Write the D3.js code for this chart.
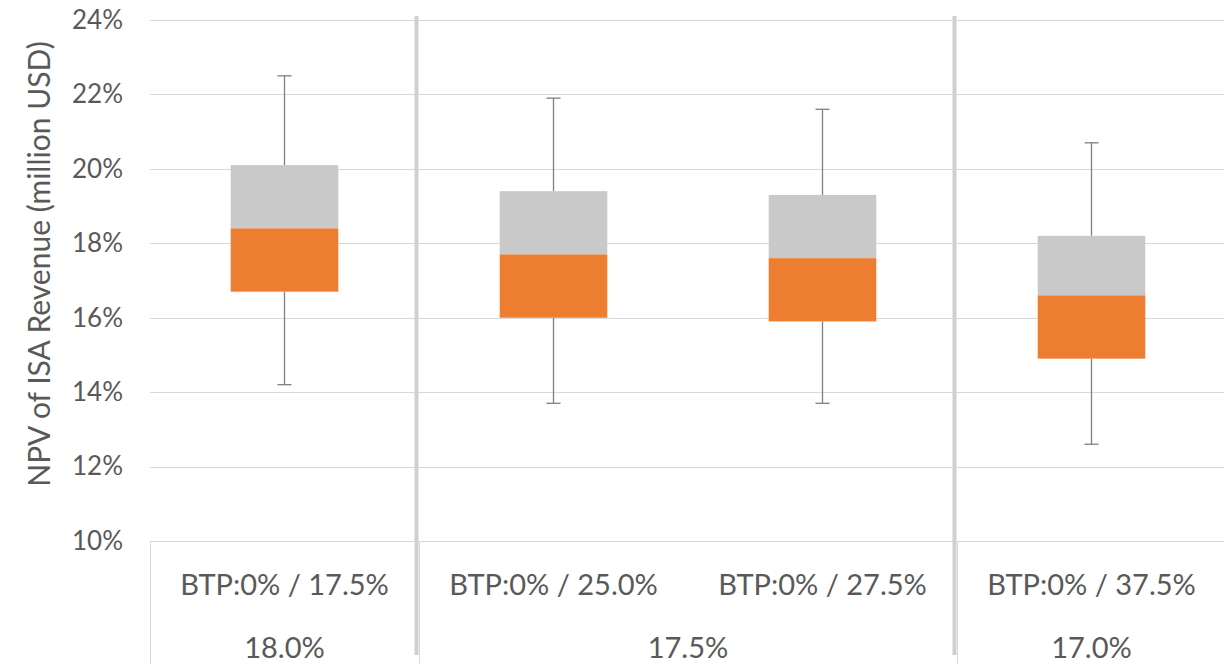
<!DOCTYPE html>
<html>
<head>
<meta charset="utf-8">
<script src="https://cdn.jsdelivr.net/npm/d3@7"></script>
<style>
  html, body { margin: 0; padding: 0; background: #fff; }
  svg { display: block; }
  text { font-family: Lato, "Open Sans", sans-serif; fill: #595959; }
</style>
</head>
<body>
<svg id="chart" width="1224" height="664"></svg>
<script>
// Scenario labels (inner level) and the rate they belong to (outer level)
const categories = ["BTP:0% / 17.5%", "BTP:0% / 25.0%", "BTP:0% / 27.5%", "BTP:0% / 37.5%"];
const groupLabels = ["18.0%", "17.5%", "17.0%"];
const groupSizes = [1, 2, 1];

// Distribution of NPV per scenario (%)
const minVals = [14.2, 13.7, 13.7, 12.6];
const q1Vals = [16.7, 16.0, 15.9, 14.9];
const medianVals = [18.4, 17.7, 17.6, 16.6];
const q3Vals = [20.1, 19.4, 19.3, 18.2];
const maxVals = [22.5, 21.9, 21.6, 20.7];

// Y axis ticks
const yTicks = [10, 12, 14, 16, 18, 20, 22, 24];
const yTitle = "NPV of ISA Revenue (million USD)";

const rows = categories.map((c, i) => ({
  cat: c, min: minVals[i], q1: q1Vals[i], med: medianVals[i], q3: q3Vals[i], max: maxVals[i]
}));

const svg = d3.select("#chart");
const plotLeft = 150, plotRight = 1226, plotTop = 20, plotBottom = 541, H = 664;

const x = d3.scaleBand().domain(categories).range([plotLeft, plotRight]).padding(0);
const y = d3.scaleLinear().domain([10, 24]).range([plotBottom, plotTop]);

const gridColor = "#d9d9d9";

// Horizontal gridlines
svg.append("g").selectAll("line").data(yTicks).join("line")
  .attr("x1", plotLeft).attr("x2", 1224)
  .attr("y1", d => Math.round(y(d)) + 0.5).attr("y2", d => Math.round(y(d)) + 0.5)
  .attr("stroke", gridColor).attr("stroke-width", 1);

// Y axis labels
const yAxis = d3.axisLeft(y).tickValues(yTicks).tickFormat(d => d + "%").tickSize(0).tickPadding(0);
const yg = svg.append("g").attr("transform", "translate(123,0)").call(yAxis);
yg.select(".domain").remove();
yg.selectAll("text")
  .style("font-family", "Lato, 'Open Sans', sans-serif")
  .style("font-size", "26px").attr("fill", "#595959");

// Y axis title
svg.append("text")
  .attr("transform", "translate(38,264) rotate(-90)")
  .attr("text-anchor", "middle").attr("dominant-baseline", "central")
  .style("font-size", "30px")
  .text(yTitle);

// Category axis frame lines
const groupEdges = [];
let acc = 0;
groupSizes.forEach(s => { groupEdges.push(acc); acc += s; });
const boundaryX = i => (i < categories.length ? x(categories[i]) : plotRight);

svg.append("g").selectAll("line").data(groupEdges).join("line")
  .attr("x1", d => Math.round(boundaryX(d)) + 0.5).attr("x2", d => Math.round(boundaryX(d)) + 0.5)
  .attr("y1", plotBottom).attr("y2", H)
  .attr("stroke", gridColor).attr("stroke-width", 1);

// Thick separators between rate groups
svg.append("g").selectAll("line").data(groupEdges.slice(1)).join("line")
  .attr("x1", d => boundaryX(d) - 2.5).attr("x2", d => boundaryX(d) - 2.5)
  .attr("y1", 16).attr("y2", 655)
  .attr("stroke", "#d0d0d0").attr("stroke-width", 4);

// Boxes
const bw = x.bandwidth() * 0.4;
const boxes = svg.append("g").selectAll("g").data(rows).join("g")
  .attr("transform", d => `translate(${x(d.cat) + x.bandwidth() / 2},0)`);

const whisker = "#7f7f7f";
boxes.append("line")
  .attr("x1", 0).attr("x2", 0).attr("y1", d => y(d.max)).attr("y2", d => y(d.q3))
  .attr("stroke", whisker).attr("stroke-width", 1.3);
boxes.append("line")
  .attr("x1", 0).attr("x2", 0).attr("y1", d => y(d.q1)).attr("y2", d => y(d.min))
  .attr("stroke", whisker).attr("stroke-width", 1.3);
boxes.append("line")
  .attr("x1", -7).attr("x2", 7).attr("y1", d => y(d.max)).attr("y2", d => y(d.max))
  .attr("stroke", whisker).attr("stroke-width", 1.3);
boxes.append("line")
  .attr("x1", -7).attr("x2", 7).attr("y1", d => y(d.min)).attr("y2", d => y(d.min))
  .attr("stroke", whisker).attr("stroke-width", 1.3);

boxes.append("rect")
  .attr("x", -bw / 2).attr("width", bw)
  .attr("y", d => y(d.q3)).attr("height", d => y(d.med) - y(d.q3))
  .attr("fill", "#c9c9c9");
boxes.append("rect")
  .attr("x", -bw / 2).attr("width", bw)
  .attr("y", d => y(d.med)).attr("height", d => y(d.q1) - y(d.med))
  .attr("fill", "#ed7d31");

// Category labels (inner level)
svg.append("g").selectAll("text").data(categories).join("text")
  .attr("x", d => x(d) + x.bandwidth() / 2).attr("y", 583)
  .attr("text-anchor", "middle").attr("dominant-baseline", "central")
  .style("font-size", "29px")
  .text(d => d);

// Group labels (outer level)
svg.append("g").selectAll("text").data(groupLabels).join("text")
  .attr("x", (d, i) => (boundaryX(groupEdges[i]) + boundaryX(groupEdges[i] + groupSizes[i])) / 2)
  .attr("y", 646)
  .attr("text-anchor", "middle").attr("dominant-baseline", "central")
  .style("font-size", "29px")
  .text(d => d);
</script>
</body>
</html>
